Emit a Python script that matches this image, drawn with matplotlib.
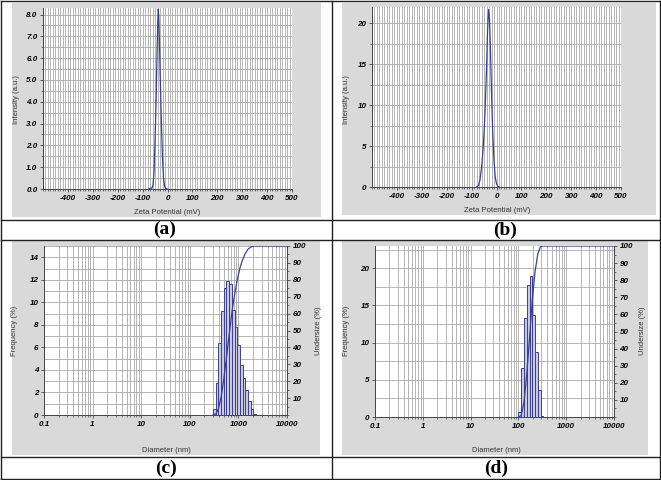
import numpy as np
import matplotlib
matplotlib.use('Agg')
import matplotlib.pyplot as plt
from matplotlib.ticker import MultipleLocator, FixedLocator, FixedFormatter, NullFormatter, LogLocator
from matplotlib.patches import Rectangle
from matplotlib.lines import Line2D

plt.rcParams['font.family'] = ['Liberation Sans', 'DejaVu Sans']
plt.rcParams['axes.unicode_minus'] = False

W, H = 661, 480

# (a) zeta potential, sample 1
zeta_a_mv = [-75, -62, -58, -54, -50, -46, -42, -39, -37, -35, -32, -28, -24, -20, -16, -12, -8, -4, 0]
zeta_a_int = [0, 0.05, 0.2, 0.8, 2.2, 4.0, 6.2, 7.7, 8.25, 7.9, 6.6, 4.6, 2.8, 1.4, 0.5, 0.15, 0.03, 0, 0]

# (b) zeta potential, sample 2
zeta_b_mv = [-80, -72, -66, -60, -55, -50, -45, -40, -36, -32, -28, -24, -20, -15, -10, -5, 0, 5, 10]
zeta_b_int = [0, 0.2, 0.9, 2.4, 4.2, 6.5, 10.0, 14.5, 19.0, 21.7, 20.5, 16.5, 11.5, 6.5, 3.2, 1.2, 0.4, 0.1, 0]

# (c) size distribution, sample 1 (bin edges in nm)
diam_c_edges = [302, 343, 389, 442, 501, 569, 646, 733, 832, 944, 1072, 1216, 1380, 1567, 1778, 2018, 2291]
freq_c = [0.5, 2.8, 6.4, 9.2, 11.3, 11.9, 11.6, 9.3, 7.8, 6.2, 4.4, 3.3, 2.2, 1.2, 0.5, 0.1]
under_c = [0, 0.6, 3.7, 10.9, 21.3, 34.0, 47.5, 60.5, 71.0, 79.8, 86.8, 91.8, 95.5, 98.0, 99.3, 99.9, 100]

# (d) size distribution, sample 2
diam_d_edges = [100, 114, 131, 149, 171, 195, 223, 255, 291, 333]
freq_d = [0.7, 6.6, 13.3, 17.7, 19.0, 13.7, 8.8, 3.6, 0.2]
under_d = [0, 0.8, 8.7, 24.6, 45.8, 68.5, 84.9, 95.5, 99.8, 100]

zeta_ticks = [-400, -300, -200, -100, 0, 100, 200, 300, 400, 500]
diam_ticks = [0.1, 1, 10, 100, 1000, 10000]
diam_labels = ['0.1', '1', '10', '100', '1000', '10000']

panel_grey = '#d9d9d9'
grid_grey = '#a8a8a8'
curve_blue = '#3c3f98'
bar_fill = '#c9cadb'
tick_font = dict(family='Liberation Sans', size=5.8, weight='bold', style='italic')
label_font = dict(family='Liberation Sans', size=5.5, color='#333333')


def frame(x0, y0, x1, y1):
    return [x0 / W, 1 - y1 / H, (x1 - x0) / W, (y1 - y0) / H]


def style_axes(ax):
    ax.set_axisbelow(True)
    for s in ['top', 'right']:
        ax.spines[s].set_visible(False)
    for s in ['left', 'bottom']:
        ax.spines[s].set_color('#444444')
        ax.spines[s].set_linewidth(0.7)
    ax.tick_params(which='major', direction='out', length=2.5, width=0.6, color='#444444', pad=1.5)
    ax.tick_params(which='minor', direction='out', length=1.5, width=0.5, color='#444444')
    ax.grid(which='both', color=grid_grey, linewidth=0.6)
    for lab in ax.get_xticklabels() + ax.get_yticklabels():
        lab.set(**tick_font)


fig = plt.figure(figsize=(W / 100, H / 100), dpi=100)

# grey panel backgrounds
for x0, y0, x1, y1 in [(12, 3, 321, 217), (342, 3, 656, 215), (12, 241, 320, 455), (342, 241, 648, 455)]:
    fig.patches.append(Rectangle((x0 / W, 1 - y1 / H), (x1 - x0) / W, (y1 - y0) / H,
                                 transform=fig.transFigure, facecolor=panel_grey, edgecolor='none',
                                 zorder=-10))

# zeta potential panels
for rect, xs, ys, ymax, ymaj, ymin, fmt, lx, ly in [
        ((43, 8, 292, 189), zeta_a_mv, zeta_a_int, 8.3, 1.0, 0.5, '%.1f', 167, 212),
        ((372, 7, 621, 187), zeta_b_mv, zeta_b_int, 22, 5, 2.5, '%d', 497, 210)]:
    ax = fig.add_axes(frame(*rect))
    ax.set_zorder(1)
    ax.set_facecolor('white')
    ax.plot(xs, ys, color=curve_blue, lw=0.9)
    ax.set_xlim(-500, 500)
    ax.set_ylim(0, ymax)
    ax.xaxis.set_major_locator(FixedLocator(zeta_ticks))
    ax.xaxis.set_minor_locator(MultipleLocator(10))
    ax.yaxis.set_major_locator(MultipleLocator(ymaj))
    ax.yaxis.set_minor_locator(MultipleLocator(ymin))
    ax.yaxis.set_major_formatter(matplotlib.ticker.FormatStrFormatter(fmt))
    style_axes(ax)
    fig.text(lx / W, 1 - ly / H, 'Zeta Potential (mV)', ha='center', va='center', **label_font)
    fig.text((rect[0] - 26) / W, 1 - 100 / H, 'Intensity (a.u.)', rotation=90,
             ha='center', va='center', **label_font)

# size distribution panels
for rect, edges, freq, under, ymax, ymaj, ymin, lx, ux, ly in [
        ((44, 246, 287, 415), diam_c_edges, freq_c, under_c, 15, 2, 1, 166, 318, 450),
        ((375, 246, 614, 417), diam_d_edges, freq_d, under_d, 23, 5, 2.5, 496, 643, 451)]:
    ax = fig.add_axes(frame(*rect))
    ax.set_zorder(1)
    ax.set_facecolor('white')
    ax.set_xscale('log')
    lefts = np.array(edges[:-1], dtype=float)
    widths = np.diff(np.array(edges, dtype=float))
    ax.bar(lefts, freq, width=widths, align='edge', color=bar_fill,
           edgecolor=curve_blue, linewidth=0.7, zorder=2)
    ax.set_xlim(0.1, 10000)
    ax.set_ylim(0, ymax)
    ax.xaxis.set_major_locator(FixedLocator(diam_ticks))
    ax.xaxis.set_major_formatter(FixedFormatter(diam_labels))
    ax.xaxis.set_minor_locator(LogLocator(base=10, subs=range(2, 10)))
    ax.xaxis.set_minor_formatter(NullFormatter())
    ax.yaxis.set_major_locator(MultipleLocator(ymaj))
    ax.yaxis.set_minor_locator(MultipleLocator(ymin))
    style_axes(ax)
    ax.tick_params(axis='y', which='minor', length=0)

    ax2 = ax.twinx()
    ax2.set_zorder(2)
    ax2.patch.set_visible(False)
    ax2.plot(list(edges) + [10000], list(under) + [100], color=curve_blue, lw=0.9)
    ax2.set_ylim(0, 100)
    ax2.yaxis.set_major_locator(FixedLocator(range(10, 101, 10)))
    ax2.yaxis.set_minor_locator(MultipleLocator(5))
    for s in ['top', 'left', 'bottom']:
        ax2.spines[s].set_visible(False)
    ax2.spines['right'].set_color('#444444')
    ax2.spines['right'].set_linewidth(0.7)
    ax2.tick_params(which='major', direction='out', length=2.5, width=0.6, color='#444444', pad=1.5)
    ax2.tick_params(which='minor', direction='out', length=1.5, width=0.5, color='#444444')
    for lab in ax2.get_yticklabels():
        lab.set(**tick_font)

    fig.text(lx / W, 1 - ly / H, 'Diameter (nm)', ha='center', va='center', **label_font)
    fig.text((rect[0] - 29) / W, 1 - 331 / H, 'Frequency (%)', rotation=90,
             ha='center', va='center', **label_font)
    fig.text(ux / W, 1 - 331 / H, 'Undersize (%)', rotation=90,
             ha='center', va='center', **label_font)


# table lines
def hline(y, x0=1, x1=660):
    fig.lines.append(Line2D([x0 / W, x1 / W], [1 - y / H, 1 - y / H], transform=fig.transFigure,
                            color='#222222', lw=1.0, zorder=5))


def vline(x, y0=1, y1=479):
    fig.lines.append(Line2D([x / W, x / W], [1 - y0 / H, 1 - y1 / H], transform=fig.transFigure,
                            color='#222222', lw=1.0, zorder=5))


for y in [1, 219.5, 240, 456.5, 479]:
    hline(y)
for x in [1, 331.5, 660]:
    vline(x)

for txt, x, y in [('(a)', 165, 229), ('(b)', 505, 230), ('(c)', 166, 468), ('(d)', 496, 468)]:
    fig.text(x / W, 1 - y / H, txt, ha='center', va='center',
             family='Liberation Serif', weight='bold', size=14)

fig.savefig('out.png', dpi=100)
